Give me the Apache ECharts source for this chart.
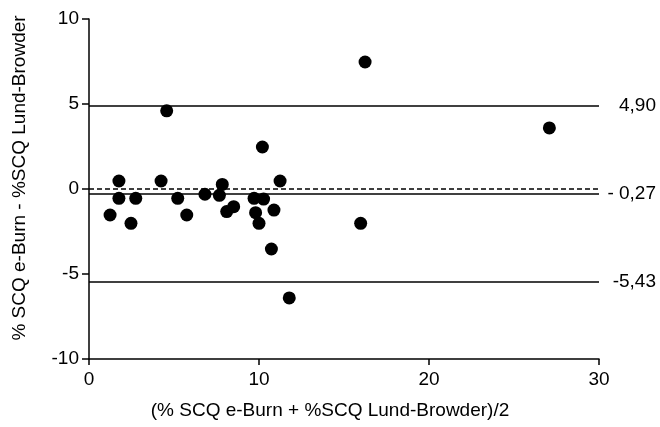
<!DOCTYPE html>
<html>
<head>
<meta charset="utf-8">
<script src="https://cdn.jsdelivr.net/npm/echarts@6/dist/echarts.min.js"></script>
<style>html,body{margin:0;padding:0;background:#fff;}#chart{width:660px;height:427px;}</style>
</head>
<body>
<div id="chart"></div>
<script>
// Mean of the two methods (x) and difference (y)
var meanValues = [16.24, 4.57, 10.2, 1.76, 4.24, 11.24, 7.84, 1.76, 2.75, 1.24, 2.47, 5.22, 5.75, 6.82, 7.67, 8.1, 8.51, 9.71, 10.27, 9.8, 10.0, 10.88, 10.73, 11.78, 15.98, 27.08];
var diffValues = [7.47, 4.6, 2.47, 0.47, 0.47, 0.47, 0.27, -0.55, -0.55, -1.53, -2.02, -0.55, -1.53, -0.31, -0.37, -1.33, -1.04, -0.55, -0.59, -1.39, -2.02, -1.24, -3.53, -6.41, -2.02, 3.59];
var xTicks = [0, 10, 20, 30];
var yTicks = [-10, -5, 0, 5, 10];
var limitValues = [4.90, -0.27, -5.43];
var limitLabels = ['4,90', '- 0,27', '-5,43'];
var zeroLine = 0;

var FONT = 'Liberation Sans';
var points = meanValues.map(function (x, i) { return [x, diffValues[i]]; });

var lineData = limitValues.map(function (v, i) {
  return [
    { coord: [0, v] },
    { coord: [30, v], label: { show: true, formatter: limitLabels[i] } }
  ];
});
lineData.push([
  { coord: [0, zeroLine], lineStyle: { type: [5, 3] } },
  { coord: [30, zeroLine], label: { show: false } }
]);

var chart = echarts.init(document.getElementById('chart'), null, { renderer: 'canvas' });
chart.setOption({
  animation: false,
  backgroundColor: '#ffffff',
  grid: { left: 89, right: 61, top: 19, bottom: 68, containLabel: false },
  xAxis: {
    type: 'value', min: 0, max: 30, interval: 10,
    name: '(% SCQ e-Burn + %SCQ Lund-Browder)/2',
    nameLocation: 'middle', nameGap: 42,
    nameTextStyle: { fontFamily: FONT, fontSize: 19, color: '#000', padding: [0, 28, 0, 0] },
    axisLine: { onZero: false, lineStyle: { color: '#000', width: 1.5 } },
    axisTick: { show: true, length: 6, lineStyle: { color: '#000', width: 1.5 } },
    axisLabel: { fontFamily: FONT, fontSize: 19, color: '#000', margin: 11,
      formatter: function (v) { return xTicks.indexOf(v) >= 0 ? String(v) : ''; } },
    splitLine: { show: false }
  },
  yAxis: {
    type: 'value', min: -10, max: 10, interval: 5,
    name: '% SCQ e-Burn - %SCQ Lund-Browder',
    nameLocation: 'middle', nameGap: 60, nameRotate: 90,
    nameTextStyle: { fontFamily: FONT, fontSize: 19, color: '#000', padding: [0, 0, 0, 22] },
    axisLine: { onZero: false, lineStyle: { color: '#000', width: 1.5 } },
    axisTick: { show: true, length: 7, lineStyle: { color: '#000', width: 1.5 } },
    axisLabel: { fontFamily: FONT, fontSize: 19, color: '#000', margin: 10,
      formatter: function (v) { return yTicks.indexOf(v) >= 0 ? String(v) : ''; } },
    splitLine: { show: false }
  },
  series: [{
    type: 'scatter',
    data: points,
    symbol: 'circle',
    symbolSize: 13,
    itemStyle: { color: '#000', opacity: 1 },
    markLine: {
      silent: true,
      symbol: ['none', 'none'],
      animation: false,
      lineStyle: { color: '#000', width: 1.5, type: 'solid' },
      label: {
        show: true, position: 'end', distance: 57, align: 'right',
        fontFamily: FONT, fontSize: 19, color: '#000'
      },
      data: lineData
    },
    z: 3
  }]
});
</script>
</body>
</html>
